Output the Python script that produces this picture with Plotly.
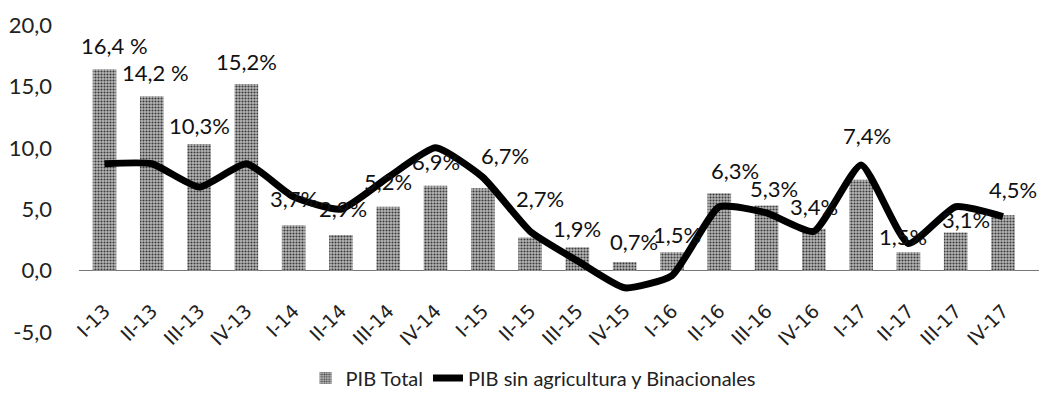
import plotly.graph_objects as go

categories = ["I-13", "II-13", "III-13", "IV-13", "I-14", "II-14", "III-14", "IV-14",
              "I-15", "II-15", "III-15", "IV-15", "I-16", "II-16", "III-16", "IV-16",
              "I-17", "II-17", "III-17", "IV-17"]
pib_total = [16.4, 14.2, 10.3, 15.2, 3.7, 2.9, 5.2, 6.9, 6.7, 2.7, 1.9, 0.7, 1.5,
             6.3, 5.3, 3.4, 7.4, 1.5, 3.1, 4.5]
pib_sin_agro = [8.7, 8.7, 6.8, 8.7, 6.0, 5.0, 7.6, 10.0, 7.6, 3.2, 0.8, -1.4, -0.4,
                5.2, 4.7, 3.2, 8.6, 2.2, 5.2, 4.4]
labels = ["16,4 %", "14,2 %", "10,3%", "15,2%", "3,7%", "2,9%", "5,2%", "6,9%", "6,7%",
          "2,7%", "1,9%", "0,7%", "1,5%", "6,3%", "5,3%", "3,4%", "7,4%", "1,5%",
          "3,1%", "4,5%"]
label_dx = [10, 4, 0, 0, 0, 2, 0, 0, 22, 10, 0, 9, 5, 16, 7, 0, 6, -5, 10, 10]
label_dy = [24, 24, 19, 22, 27, 26, 25, 24, 33, 39, 19, 21, 18, 23, 17, 22, 44, 16, 13, 26]
y_ticks = [-5, 0, 5, 10, 15, 20]
y_ticktext = ["-5,0", "0,0", "5,0", "10,0", "15,0", "20,0"]

fig = go.Figure()
fig.add_trace(go.Bar(
    x=categories, y=pib_total, name="PIB Total",
    marker=dict(color="#a0a0a0", line=dict(width=0),
                pattern=dict(shape=".", fgcolor="#3a3a3a", bgcolor="#b8b8b8",
                             size=3, solidity=0.4, fillmode="replace")),
))
fig.add_trace(go.Scatter(
    x=categories, y=pib_sin_agro, name="PIB sin agricultura y Binacionales",
    mode="lines", line=dict(color="black", width=7, shape="spline", smoothing=0.5),
))

for c, v, t, dx, dy in zip(categories, pib_total, labels, label_dx, label_dy):
    fig.add_annotation(x=c, y=v, text=t, showarrow=False, xshift=dx, yshift=dy,
                       font=dict(family="Lato, Open Sans, sans-serif", size=22, color="#111"))

fig.update_layout(
    width=1054, height=400,
    margin=dict(l=71, r=23, t=17, b=76, autoexpand=False),
    paper_bgcolor="white", plot_bgcolor="white",
    bargap=0.5,
    showlegend=True,
    legend=dict(orientation="h", x=0.236, xanchor="left", y=-0.15, yanchor="middle",
                font=dict(family="Lato, Open Sans, sans-serif", size=20, color="#222"),
                itemwidth=30, tracegroupgap=0),
    xaxis=dict(anchor="free", position=0.12, tickangle=-45, showgrid=False,
               showline=False, ticks="", automargin=False,
               tickfont=dict(family="DejaVu Sans, Verdana, sans-serif", size=19, color="#222")),
    yaxis=dict(range=[-5, 20], tickvals=y_ticks, ticktext=y_ticktext, showgrid=False,
               zeroline=True, zerolinecolor="#777", zerolinewidth=1, showline=False,
               ticklabelstandoff=26, automargin=False,
               tickfont=dict(family="Lato, Open Sans, sans-serif", size=22, color="#222")),
)

fig.write_html("out.html")
